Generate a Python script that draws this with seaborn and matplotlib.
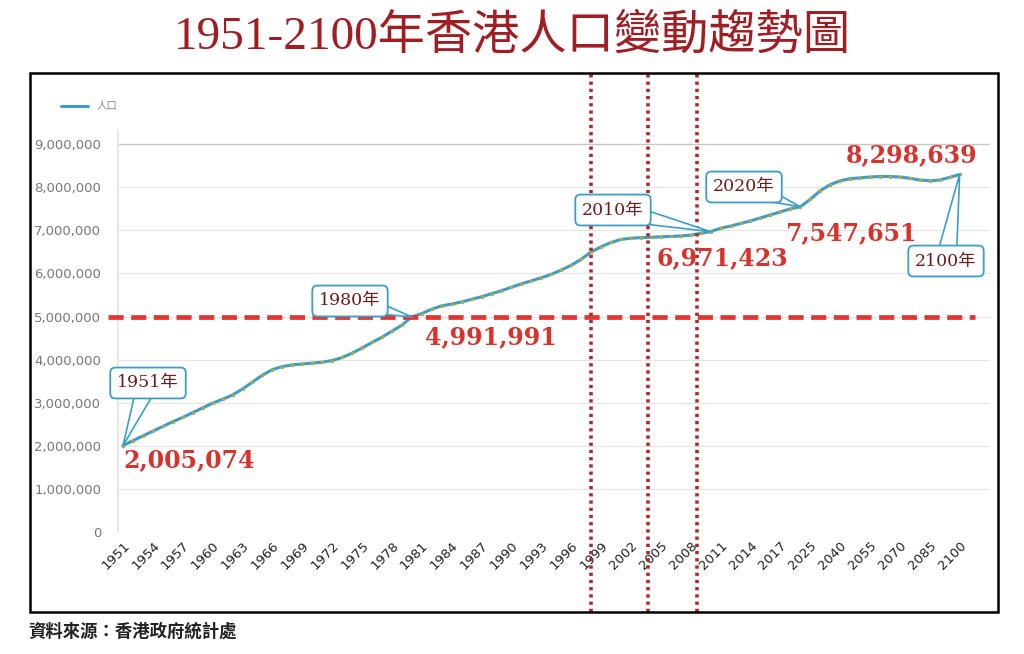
import pandas as pd
import matplotlib.pyplot as plt
import matplotlib.patches as mpatches
import seaborn as sns

# years on the category axis (yearly to 2017, then 2018, 2020 and 5-year steps)
years = list(range(1951, 2018)) + [2018, 2020] + list(range(2025, 2101, 5))

# population
population = [
    2005074, 2120000, 2230000, 2340000, 2450000, 2560000, 2660000, 2770000, 2880000, 2990000,
    3080000, 3180000, 3320000, 3480000, 3640000, 3770000, 3840000, 3880000, 3900000, 3920000,
    3940000, 3980000, 4050000, 4150000, 4270000, 4400000, 4520000, 4660000, 4800000, 4991991,
    5070000, 5170000, 5250000, 5290000, 5340000, 5400000, 5460000, 5530000, 5600000, 5680000,
    5760000, 5830000, 5900000, 5980000, 6080000, 6190000, 6330000, 6500000, 6620000, 6720000,
    6790000, 6820000, 6830000, 6840000, 6850000, 6860000, 6870000, 6890000, 6930000, 6971423,
    7050000, 7100000, 7160000, 7220000, 7290000, 7360000, 7430000, 7500000, 7547651,
    7720000, 7920000, 8060000, 8150000, 8200000, 8220000, 8240000, 8250000, 8250000, 8240000,
    8210000, 8170000, 8150000, 8170000, 8230000, 8298639,
]

# highlighted points: (year, callout text)
callout_years = [1951, 1980, 2010, 2020, 2100]
callout_texts = ['1951年', '1980年', '2010年', '2020年', '2100年']
value_labels = ['2,005,074', '4,991,991', '6,971,423', '7,547,651', '8,298,639']

df = pd.DataFrame({'idx': range(len(years)), 'year': years, 'pop': population})

W, H = 1024, 654
sns.set_theme(style='white')
plt.rcParams['font.family'] = ['DejaVu Sans', 'Noto Sans CJK TC']

fig = plt.figure(figsize=(W / 100, H / 100), dpi=100)
ax = fig.add_axes([118 / W, (H - 532) / H, (990 - 118) / W, (532 - 130) / H])

def px(x, y):
    # top-left pixel -> figure fraction
    return x / W, (H - y) / H

# outer frame
x0, y0 = px(30, 612)
fig.patches.append(mpatches.Rectangle((x0, y0), 968 / W, (612 - 73) / H, transform=fig.transFigure,
                                      fill=False, ec='black', lw=1.8))

sns.lineplot(data=df, x='idx', y='pop', ax=ax, color='#3c9ec6', lw=2.2, label='人口',
             marker='o', markersize=2.5, markerfacecolor='#b5a743', markeredgewidth=0)

ax.set_xlim(-0.5, 87.05)
ax.set_ylim(0, 9330000)
ax.set_yticks(range(0, 9000001, 1000000))
ax.set_yticklabels([f'{v:,}' for v in range(0, 9000001, 1000000)], color='#777777', fontsize=9.5)
tick_idx = list(range(0, len(years), 3))
ax.set_xticks(tick_idx)
ax.set_xticklabels([str(years[i]) for i in tick_idx], rotation=45, ha='right',
                   rotation_mode='anchor', fontsize=9.5, color='#222222')
ax.tick_params(axis='y', length=0, pad=12)
ax.tick_params(axis='x', length=0, pad=5)
ax.set_xlabel('')
ax.set_ylabel('')
ax.grid(axis='y', color='#e4e4e4', lw=0.8)
ax.axhline(9000000, color='#c8c8c8', lw=1)
for s in ['top', 'right', 'bottom']:
    ax.spines[s].set_visible(False)
ax.spines['left'].set_color('#e4e4e4')

leg = ax.legend(loc='upper left', bbox_to_anchor=px(52, 92), bbox_transform=fig.transFigure,
                frameon=False, fontsize=7.5, handlelength=2.6, labelcolor='#888888')
for ln in leg.get_lines():
    ln.set_marker('')

# guide lines
ax.axhline(4991991, xmin=-0.012, xmax=0.983, color='#e03530', lw=3.4, ls=(0, (3.2, 1.6)),
           clip_on=False, zorder=5)
for gx in [47, 52.7, 57.6]:
    ax.axvline(gx, ymin=-0.199, ymax=1.142, color='#b0262a', lw=2.6, ls=(0, (0.9, 1.1)),
               clip_on=False, zorder=5)

# callouts: wedge starts inside the box so the box hides its base (speech-bubble look)
callout_pos = [(148, 383), (350, 301), (613, 210), (744, 187), (946, 261)]
for yr, txt, (tx, ty) in zip(callout_years, callout_texts, callout_pos):
    i = years.index(yr)
    ax.annotate(txt, xy=(i, population[i]), xytext=px(tx, ty), textcoords='figure fraction',
                ha='center', va='center', fontsize=12.5, color='#6e1a1a',
                family=['DejaVu Serif', 'Noto Sans CJK TC'], zorder=6,
                bbox=dict(boxstyle='round,pad=0.4,rounding_size=0.3', fc='white', ec='#3c9ec6', lw=1.3),
                arrowprops=dict(arrowstyle='wedge,tail_width=1.2,shrink_factor=0.5',
                                fc='white', ec='#3c9ec6', lw=1.2,
                                patchA=None, shrinkA=0, shrinkB=0))

label_pos = [(189, 460), (491, 337), (722, 258), (851, 233), (912, 155)]
for lab, (lx, ly) in zip(value_labels, label_pos):
    fig.text(*px(lx, ly), lab, ha='center', va='center', fontsize=17, fontweight='bold',
             color='#d8322d', family='DejaVu Serif', zorder=7)

fig.text(0.5, (H - 36) / H, '1951-2100年香港人口變動趨勢圖', ha='center', va='center', fontsize=34,
         color='#a01d24', family=['Liberation Serif', 'Noto Sans CJK TC'])
fig.text(28 / W, (H - 632) / H, '資料來源：香港政府統計處', ha='left', va='center', fontsize=12.5,
         fontweight='bold', color='#222222', family=['Noto Sans CJK TC', 'DejaVu Sans'])

plt.savefig('out.png', dpi=100)
